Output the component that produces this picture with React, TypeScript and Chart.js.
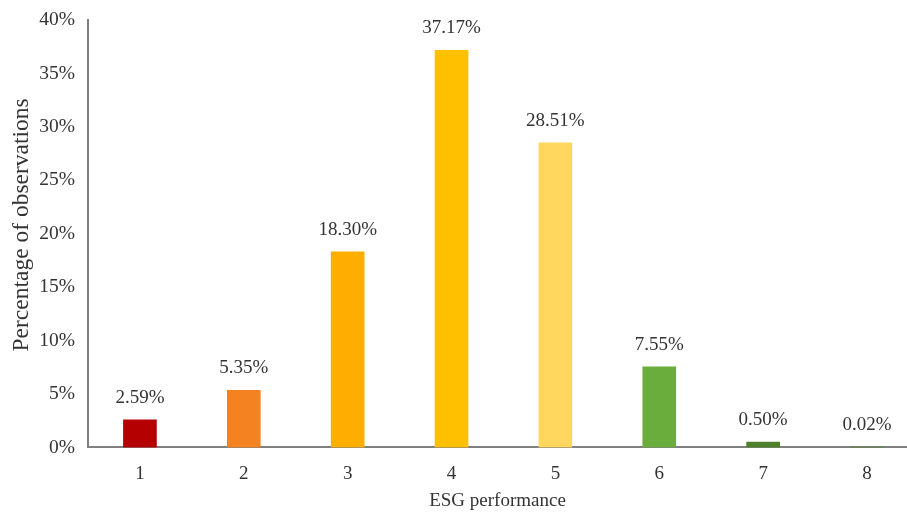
import React, { useEffect, useRef } from "react";
import { Chart, registerables } from "chart.js";

Chart.register(...registerables);

const categories = [1, 2, 3, 4, 5, 6, 7, 8];
const values = [2.59, 5.35, 18.3, 37.17, 28.51, 7.55, 0.5, 0.02];
const barColors = ["#B50000", "#F58220", "#FFAE00", "#FFC000", "#FFD75E", "#6AAD3C", "#4E7F2B", "#4E7F2B"];
const yTicks = [0, 5, 10, 15, 20, 25, 30, 35, 40];

const FONT = "'Liberation Serif', 'Times New Roman', serif";
const TEXT = "#333333";

const valueLabels = {
  id: "valueLabels",
  afterDatasetsDraw(chart: any) {
    const ctx = chart.ctx;
    const meta = chart.getDatasetMeta(0);
    ctx.save();
    ctx.font = `19px ${FONT}`;
    ctx.fillStyle = TEXT;
    ctx.textAlign = "center";
    ctx.textBaseline = "middle";
    meta.data.forEach((el: any, i: number) => {
      ctx.fillText(values[i].toFixed(2) + "%", el.x, el.y - 22);
    });
    ctx.restore();
  },
};

export default function App() {
  const ref = useRef<HTMLCanvasElement>(null);
  useEffect(() => {
    if (!ref.current) return;
    const chart = new Chart(ref.current, {
      type: "bar",
      data: {
        labels: categories,
        datasets: [
          {
            data: categories.map((c, i) => ({ x: c, y: values[i] })),
            backgroundColor: barColors,
            barThickness: 33,
          },
        ],
      },
      options: {
        responsive: false,
        animation: false,
        layout: { padding: { top: 20, right: 0, bottom: 4, left: 0 } },
        plugins: { legend: { display: false }, tooltip: { enabled: false } },
        scales: {
          x: {
            type: "linear",
            offset: false,
            min: 0.5,
            max: 8.385,
            grid: { display: false, drawTicks: false, offset: false },
            border: { display: true, color: "#808080", width: 2 },
            afterBuildTicks: (axis: any) => {
              axis.ticks = categories.map((c) => ({ value: c }));
            },
            ticks: {
              padding: 15,
              color: TEXT,
              font: { family: FONT, size: 19 },
              callback: (v: any) => String(v),
            },
            title: {
              display: true,
              text: "ESG performance",
              color: TEXT,
              font: { family: FONT, size: 19 },
              padding: { top: -11, bottom: 0 },
            },
          },
          y: {
            min: 0,
            max: 40,
            afterBuildTicks: (axis: any) => {
              axis.ticks = yTicks.map((v) => ({ value: v }));
            },
            afterFit: (scale: any) => {
              scale.width = 88;
              scale.paddingTop = 0;
              scale.paddingBottom = 0;
            },
            grid: { display: false, drawTicks: false },
            border: { display: true, color: "#808080", width: 2 },
            ticks: {
              padding: 13,
              color: TEXT,
              font: { family: FONT, size: 19.5 },
              callback: (v: any) => v + "%",
            },
            title: {
              display: true,
              text: "\u00A0\u00A0\u00A0Percentage of observations",
              color: TEXT,
              font: { family: FONT, size: 23.5 },
              padding: { top: 8, bottom: 0 },
            },
          },
        },
      },
      plugins: [valueLabels],
    });
    return () => chart.destroy();
  }, []);
  return (
    <div style={{ position: "fixed", left: 0, top: 0, width: 907, height: 516, background: "#fff" }}>
      <canvas ref={ref} width={907} height={516} style={{ display: "block" }} />
    </div>
  );
}
